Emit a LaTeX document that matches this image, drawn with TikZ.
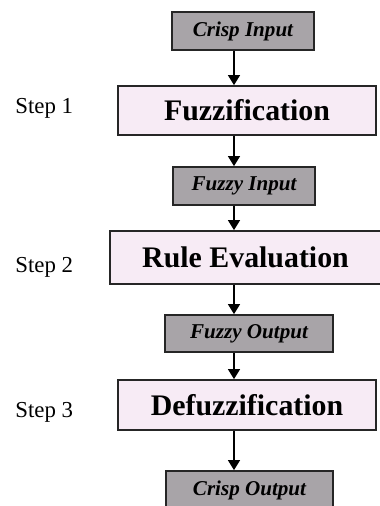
\documentclass[tikz,border=0pt]{standalone}
\usepackage{fontspec}
\setmainfont{Liberation Serif}
\usepackage{tikz}
\usetikzlibrary{arrows.meta}
\usepackage{xcolor}
\definecolor{datagray}{RGB}{168,164,168}
\definecolor{stagepink}{RGB}{247,235,245}

\begin{document}
\begin{tikzpicture}[x=0.02cm,y=-0.02cm,>={Triangle[length=0.2cm,width=0.24cm]},
  databox/.style={draw=black!85,line width=1pt,fill=datagray,inner sep=0pt,
    font=\fontsize{12}{14}\selectfont\bfseries\itshape},
  stagebox/.style={draw=black!85,line width=1pt,fill=stagepink,inner sep=0pt,
    font=\fontsize{17}{20}\selectfont\bfseries},
  steplabel/.style={anchor=base west,inner sep=0pt,font=\fontsize{13}{15}\selectfont},
  flow/.style={->,line width=0.8pt}]
\useasboundingbox (0,0) rectangle (379,506);
\coordinate (axis) at (234,0);
% data and stages
\node[databox,minimum width=2.84cm,minimum height=0.76cm] (cin) at (243,31) {Crisp Input};
\node[stagebox,minimum width=5.16cm,minimum height=0.98cm] (fuzz) at (247,110.5) {Fuzzification};
\node[databox,minimum width=2.84cm,minimum height=0.76cm] (fin) at (244,186) {Fuzzy Input};
\node[stagebox,minimum width=5.42cm,minimum height=1.06cm] (rule) at (245.5,257.5) {Rule Evaluation};
\node[databox,minimum width=3.36cm,minimum height=0.74cm] (fout) at (249,333.5) {Fuzzy Output};
\node[stagebox,minimum width=5.16cm,minimum height=1.0cm] (defuzz) at (247,405) {Defuzzification};
\node[databox,minimum width=3.34cm,minimum height=0.78cm] (cout) at (249.5,490.5) {Crisp Output};
% steps
\node[steplabel] (s1) at (15,114) {Step 1};
\node[steplabel] (s2) at (15,272) {Step 2};
\node[steplabel] (s3) at (15,417) {Step 3};
% arrows
\draw[flow] (cin.south -| axis) -- (fuzz.north -| axis);
\draw[flow] (fuzz.south -| axis) -- (fin.north -| axis);
\draw[flow] (fin.south -| axis) -- (rule.north -| axis);
\draw[flow] (rule.south -| axis) -- (fout.north -| axis);
\draw[flow] (fout.south -| axis) -- (defuzz.north -| axis);
\draw[flow] (defuzz.south -| axis) -- (cout.north -| axis);
\end{tikzpicture}
\end{document}
